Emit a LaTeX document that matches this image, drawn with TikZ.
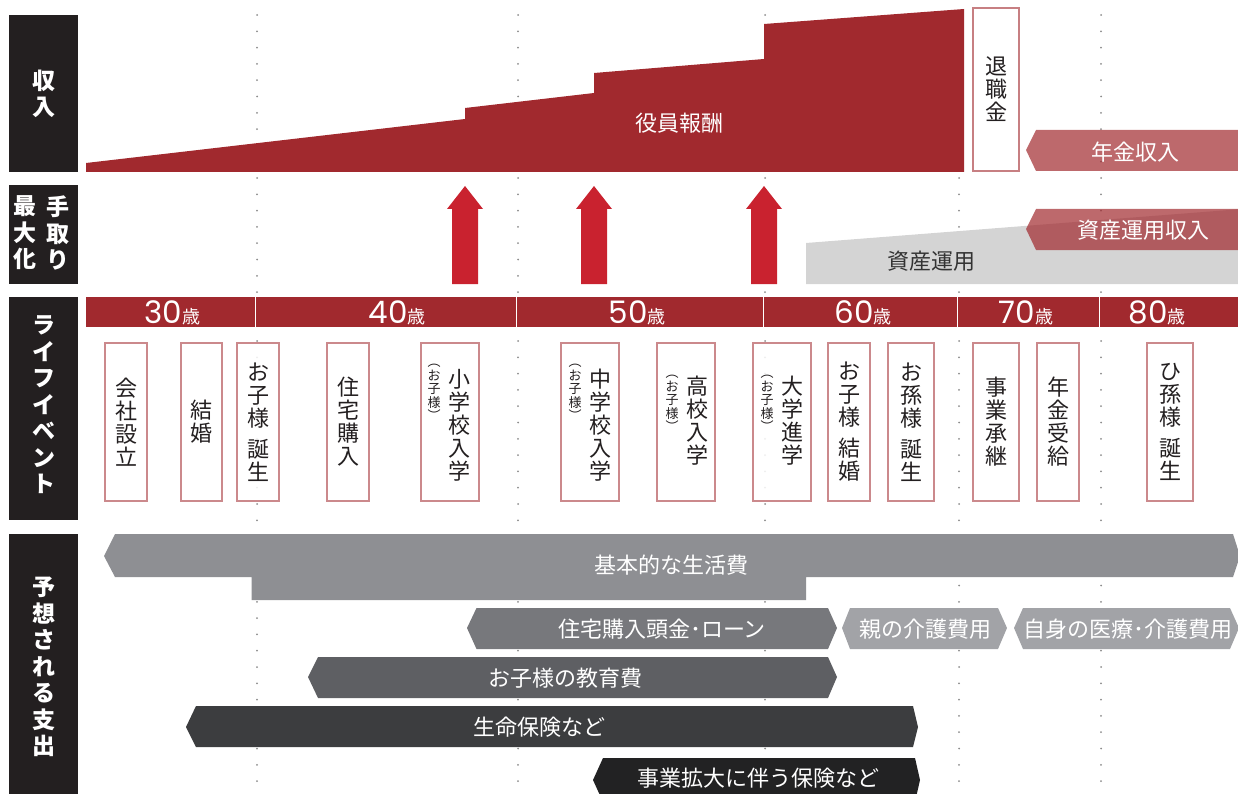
\documentclass[tikz,border=0pt]{standalone}
\usepackage{fontspec}
\usepackage{tikz}
\usetikzlibrary{positioning}
\newfontfamily\jp{Noto Sans CJK JP}
\newfontfamily\agefont{Poppins}
\definecolor{incred}{HTML}{A1292E}
\definecolor{upred}{HTML}{C9222F}
\definecolor{labelbg}{HTML}{231F20}
\definecolor{asset}{HTML}{D4D4D4}
\definecolor{assettext}{HTML}{333333}
\definecolor{dotgray}{HTML}{8C8C8C}
\definecolor{costA}{HTML}{8E8F93}
\definecolor{costB}{HTML}{77787C}
\definecolor{costC}{HTML}{A2A3A7}
\definecolor{costD}{HTML}{5E5F63}
\definecolor{costE}{HTML}{3C3D3F}
\definecolor{costF}{HTML}{222223}

\begin{document}
\begin{tikzpicture}[x=1pt, y=-1pt,
    sidetext/.style={text=white, align=center, inner sep=0pt, font=\jp\bfseries\fontsize{23}{26.5}\selectfont},
    evbox/.style={draw=incred!55, line width=1.3pt, fill=white, fill opacity=0.85, minimum height=158pt, inner sep=0pt},
    evtext/.style={text=labelbg, align=center, inner sep=0pt, font=\jp\fontsize{22}{23}\selectfont},
    evsmall/.style={text=labelbg, align=center, inner sep=0pt, font=\jp\fontsize{13}{13.5}\selectfont},
    agetext/.style={text=white, anchor=base, inner sep=0pt, font=\agefont\fontsize{31}{31}\selectfont},
    bartext/.style={text=white, font=\jp\fontsize{22}{22}\selectfont},
    dotline/.style={draw=dotgray, line width=2pt, line cap=round, dash pattern=on 0pt off 16.3pt}]

    \useasboundingbox (0,0) rectangle (1238,794);

    \foreach \x in {257,518,765,959,1101}
        \draw [dotline] (\x,15) -- (\x,790);

    \fill [labelbg] (9,15) rectangle (78,172);
    \fill [labelbg] (9,185) rectangle (78,284);
    \fill [labelbg] (9,297) rectangle (78,520);
    \fill [labelbg] (9,534) rectangle (78,800);

    \node [sidetext] (shunyu) at (43.5,94) {収\\入};
    \node [sidetext] (tedori) at (58,233) {手\\取\\り};
    \node [sidetext] (saidaika) at (25,233) {最\\大\\化};
    \node [sidetext] (life) at (43.5,405) {ラ\\イ\\フ\\イ\\ベ\\ン\\ト};
    \node [sidetext] (yoso) at (43.5,667) {予\\想\\さ\\れ\\る\\支\\出};

    \fill [incred] (86,172) -- (86,163) -- (465,119) -- (465,108) -- (594,93) -- (594,73)
        -- (764,59) -- (764,24) -- (964,9) -- (964,172) -- cycle;
    \node [bartext] (yakuin) at (679,123) {役員報酬};

    \node [evbox, draw=incred!60, minimum width=46pt, minimum height=163pt] (taishoku) at (996,89.5) {};
    \node [evtext] (taishokuT) at (taishoku) {退\\職\\金};

    \fill [incred, fill opacity=0.7] (1026,150) -- (1036,130) -- (1242,130) -- (1242,171) -- (1036,171) -- cycle;
    \node [bartext] (nenkin) at (1135,152) {年金収入};

    \fill [asset] (806,243) -- (1242,209) -- (1242,284) -- (806,284) -- cycle;
    \node [text=assettext, font=\jp\fontsize{22}{22}\selectfont] (unyo) at (931,261) {資産運用};

    \fill [incred, fill opacity=0.7] (1026,229) -- (1036,209) -- (1242,209) -- (1242,250) -- (1036,250) -- cycle;
    \node [bartext] (unyoshunyu) at (1143,230) {資産運用収入};

    \foreach \x in {465,594,764}
        \fill [upred] (\x-13,284) -- (\x-13,209) -- (\x-18,209) -- (\x,186)
            -- (\x+18,209) -- (\x+13,209) -- (\x+13,284) -- cycle;

    \fill [incred] (86,297) rectangle (1242,327);
    \foreach \x in {255.5,516.5,763,957,1099}
        \draw [white, line width=1pt] (\x,297) -- (\x,327);

    \node [agetext] (age30) at (172.5,323.5) {30{\jp\fontsize{18}{18}\selectfont 歳}};
    \node [agetext] (age40) at (397,323.5) {40{\jp\fontsize{18}{18}\selectfont 歳}};
    \node [agetext] (age50) at (637,323.5) {50{\jp\fontsize{18}{18}\selectfont 歳}};
    \node [agetext] (age60) at (863,323.5) {60{\jp\fontsize{18}{18}\selectfont 歳}};
    \node [agetext] (age70) at (1026,323.5) {70{\jp\fontsize{18}{18}\selectfont 歳}};
    \node [agetext] (age80) at (1157,323.5) {80{\jp\fontsize{18}{18}\selectfont 歳}};

    \node [evbox, minimum width=42pt] (kaisha) at (126,422) {};
    \node [evbox, minimum width=41pt] (kekkon) at (201.5,422) {};
    \node [evbox, minimum width=42pt] (tanjo) at (258,422) {};
    \node [evbox, minimum width=42pt] (jutaku) at (348,422) {};
    \node [evbox, minimum width=58pt] (shogaku) at (450,422) {};
    \node [evbox, minimum width=58pt] (chugaku) at (590,422) {};
    \node [evbox, minimum width=58pt] (koko) at (686,422) {};
    \node [evbox, minimum width=58pt] (daigaku) at (782,422) {};
    \node [evbox, minimum width=42pt] (kokekkon) at (849,422) {};
    \node [evbox, minimum width=46pt] (mago) at (911,422) {};
    \node [evbox, minimum width=46pt] (shokei) at (996,422) {};
    \node [evbox, minimum width=42pt] (jukyu) at (1058,422) {};
    \node [evbox, minimum width=46pt] (himago) at (1170,422) {};

    \node [evtext] (kaishaT) at (kaisha) {会\\社\\設\\立};
    \node [evtext] (kekkonT) at (kekkon) {結\\婚};
    \node [evtext] (tanjoT) at (tanjo) {お\\子\\様\\[8pt]誕\\生};
    \node [evtext] (jutakuT) at (jutaku) {住\\宅\\購\\入};
    \node [evtext] (shogakuT) at (459,425) {小\\学\\校\\入\\学};
    \node [evsmall, anchor=north] (shogakuS) at (434,364) {︵\\お\\子\\様\\︶};
    \node [evtext] (chugakuT) at (600,425) {中\\学\\校\\入\\学};
    \node [evsmall, anchor=north] (chugakuS) at (575,364) {︵\\お\\子\\様\\︶};
    \node [evtext] (kokoT) at (697,421) {高\\校\\入\\学};
    \node [evsmall, anchor=north] (kokoS) at (672,375) {︵\\お\\子\\様\\︶};
    \node [evtext] (daigakuT) at (792,421) {大\\学\\進\\学};
    \node [evsmall, anchor=north] (daigakuS) at (767,375) {︵\\お\\子\\様\\︶};
    \node [evtext] (kokekkonT) at (kokekkon) {お\\子\\様\\[8pt]結\\婚};
    \node [evtext] (magoT) at (mago) {お\\孫\\様\\[8pt]誕\\生};
    \node [evtext] (shokeiT) at (shokei) {事\\業\\承\\継};
    \node [evtext] (jukyuT) at (jukyu) {年\\金\\受\\給};
    \node [evtext] (himagoT) at (himago) {ひ\\孫\\様\\[8pt]誕\\生};

    \fill [costA] (104,556) -- (115,534) -- (1233,534) -- (1240,556) -- (1233,577) -- (806,577)
        -- (806,600) -- (251.5,600) -- (251.5,577) -- (115,577) -- cycle;
    \fill [costB] (467,628) -- (476.5,608) -- (828,608) -- (837,628) -- (828,649) -- (476.5,649) -- cycle;
    \fill [costC] (842,628) -- (850,608) -- (998,608) -- (1007,628) -- (998,649) -- (850,649) -- cycle;
    \fill [costC] (1014,628) -- (1023,608) -- (1230,608) -- (1239,628) -- (1230,649) -- (1023,649) -- cycle;
    \fill [costD] (308,677) -- (318,657) -- (828,657) -- (837,677) -- (828,698) -- (318,698) -- cycle;
    \fill [costE] (186,727) -- (196,706) -- (913,706) -- (918,727) -- (913,747) -- (196,747) -- cycle;
    \fill [costF] (593,780) -- (603,758) -- (915,758) -- (920,780) -- (915,802) -- (603,802) -- cycle;

    \node [bartext] (kihon) at (671,565) {基本的な生活費};
    \node [bartext] (jutakuhi) at (662,629) {住宅購入頭金･ローン};
    \node [bartext] (kaigo) at (925,629) {親の介護費用};
    \node [bartext] (iryo) at (1128,629) {自身の医療･介護費用};
    \node [bartext] (kyoiku) at (565,678) {お子様の教育費};
    \node [bartext] (hoken) at (539,727) {生命保険など};
    \node [bartext] (kakudai) at (758,778) {事業拡大に伴う保険など};

\end{tikzpicture}
\end{document}
